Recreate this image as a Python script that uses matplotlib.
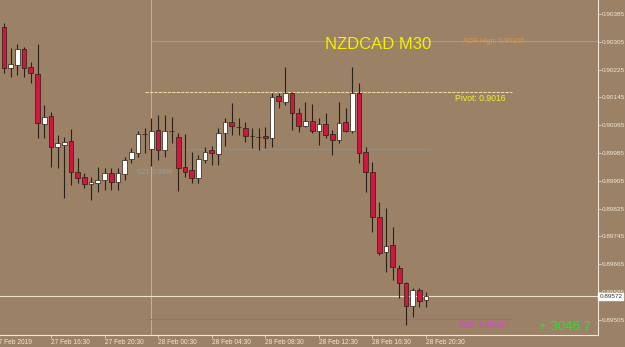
# NZDCAD M30 candlestick chart (MT4 style)
import numpy as np
import matplotlib.pyplot as plt

plt.rcParams['font.family'] = ['Liberation Sans', 'DejaVu Sans']

# OHLC for each 30 min bar, starting 27 Feb 13:00
opens = [0.90348, 0.90230, 0.90238, 0.90284, 0.90232, 0.90212, 0.90068, 0.90091,
         0.90002, 0.90008, 0.90020, 0.89930, 0.89916, 0.89896, 0.89899, 0.89907,
         0.89927, 0.89902, 0.89925, 0.89968, 0.89985, 0.90040, 0.89996, 0.90051,
         0.89994, 0.90048, 0.90031, 0.89945, 0.89936, 0.89913, 0.89965, 0.89994,
         0.89982, 0.90043, 0.90074, 0.90060, 0.90057, 0.90034, 0.90031, 0.90034,
         0.90028, 0.90149, 0.90132, 0.90158, 0.90100, 0.90063, 0.90077, 0.90048,
         0.90068, 0.90040, 0.90022, 0.90074, 0.90048, 0.90158, 0.89988, 0.89930,
         0.89801, 0.89700, 0.89720, 0.89654, 0.89611, 0.89545, 0.89591, 0.89562]
highs = [0.90359, 0.90287, 0.90299, 0.90290, 0.90247, 0.90299, 0.90123, 0.90103,
         0.90037, 0.90031, 0.90054, 0.89971, 0.89927, 0.89916, 0.89945, 0.89942,
         0.89942, 0.89942, 0.89973, 0.89999, 0.90048, 0.90057, 0.90086, 0.90094,
         0.90094, 0.90089, 0.90043, 0.90040, 0.89988, 0.89979, 0.90002, 0.90005,
         0.90057, 0.90086, 0.90129, 0.90086, 0.90074, 0.90057, 0.90057, 0.90060,
         0.90158, 0.90158, 0.90232, 0.90160, 0.90114, 0.90132, 0.90126, 0.90086,
         0.90100, 0.90051, 0.90132, 0.90114, 0.90232, 0.90186, 0.90002, 0.89959,
         0.89844, 0.89827, 0.89772, 0.89663, 0.89614, 0.89596, 0.89596, 0.89585]
lows = [0.90215, 0.90204, 0.90209, 0.90204, 0.90186, 0.90028, 0.90028, 0.89945,
        0.89942, 0.89855, 0.89893, 0.89899, 0.89884, 0.89850, 0.89873, 0.89879,
        0.89879, 0.89879, 0.89907, 0.89956, 0.89973, 0.89985, 0.89948, 0.89965,
        0.89973, 0.90014, 0.89876, 0.89916, 0.89899, 0.89899, 0.89956, 0.89950,
        0.89950, 0.90005, 0.90037, 0.90037, 0.90017, 0.89999, 0.89994, 0.89999,
        0.90002, 0.90114, 0.90123, 0.90051, 0.90045, 0.90060, 0.90043, 0.90008,
        0.90028, 0.89979, 0.90014, 0.90045, 0.90043, 0.89956, 0.89873, 0.89758,
        0.89691, 0.89642, 0.89619, 0.89568, 0.89490, 0.89513, 0.89542, 0.89542]
closes = [0.90230, 0.90241, 0.90284, 0.90230, 0.90215, 0.90071, 0.90089, 0.90002,
          0.90014, 0.90017, 0.89930, 0.89913, 0.89896, 0.89902, 0.89907, 0.89927,
          0.89902, 0.89927, 0.89965, 0.89988, 0.90040, 0.90040, 0.90048, 0.89994,
          0.90048, 0.90048, 0.89942, 0.89930, 0.89913, 0.89968, 0.89988, 0.89985,
          0.90043, 0.90074, 0.90063, 0.90060, 0.90034, 0.90034, 0.90031, 0.90028,
          0.90146, 0.90135, 0.90158, 0.90100, 0.90063, 0.90077, 0.90048, 0.90068,
          0.90037, 0.90022, 0.90071, 0.90048, 0.90158, 0.89985, 0.89930, 0.89801,
          0.89697, 0.89717, 0.89657, 0.89611, 0.89545, 0.89591, 0.89559, 0.89572]

time_bars = [7, 15, 23, 31, 39, 47, 55, 63]
time_labels = ['27 Feb 16:30', '27 Feb 20:30', '28 Feb 00:30', '28 Feb 04:30',
               '28 Feb 08:30', '28 Feb 12:30', '28 Feb 16:30', '28 Feb 20:30']
price_ticks = [0.90385, 0.90305, 0.90225, 0.90145, 0.90065, 0.89985,
               0.89905, 0.89825, 0.89745, 0.89665, 0.89585, 0.89505]

adr_high = 0.90306
pivot = 0.9016
blue_level = 0.89996
s38 = 0.89507
bid = 0.89572
day_start = 22

bg = '#9b8166'
fg = '#f2e8d8'

fig = plt.figure(figsize=(6.25, 3.47), dpi=100, facecolor=bg)
ax = fig.add_axes([0, 12 / 347, 598 / 625, 335 / 347], facecolor=bg)

x = np.arange(len(opens))
o = np.array(opens)
c = np.array(closes)
up = c >= o

# day separator
ax.axvline(day_start, color='#c9b293', lw=0.7, zorder=1)

# levels
ax.hlines(adr_high, 22.1, 90, color='#d49a5a', lw=0.6, zorder=1)
ax.text(73, adr_high, 'ADR High: 0.90306', color='#d9974e', fontsize=5,
        ha='center', va='center', zorder=2)
ax.hlines(pivot, 21, 75.8, color='#e8dca0', lw=0.8, linestyles=(0, (3, 1)), zorder=1)
ax.text(67.3, pivot - 0.00006, 'Pivot: 0.9016', color='#f5ef30', fontsize=6.2,
        ha='left', va='top', zorder=2)
ax.hlines(blue_level, 25, 63.6, color='#7b93ad', lw=0.9, zorder=1)
ax.text(19.8, 0.89930, 'S23: 0.8999', color='#8fa3b0', fontsize=4.8,
        ha='left', va='center', zorder=2)
ax.hlines(s38, 21, 75.8, color='#c25a8e', lw=0.8, zorder=1)
ax.text(67.8, s38 - 0.00005, 'S38: 0.8950', color='#e040d8', fontsize=6.4,
        ha='left', va='top', zorder=2)
ax.axhline(bid, color='#efe2c8', lw=0.8, zorder=1)

# candles
ax.vlines(x, lows, highs, color='#2a2017', lw=0.8, zorder=3)
body_bottom = np.minimum(o, c)
body_height = np.abs(c - o)
colors = np.where(up, '#ffffff', '#d3163f')
ax.bar(x, body_height, bottom=body_bottom, width=0.7, color=colors,
       edgecolor='#2a1c12', linewidth=0.5, zorder=4)

ax.text(55.8, 0.90296, 'NZDCAD M30', color='#f4f000', fontsize=12,
        ha='center', va='center', zorder=5)
ax.text(87.6, 0.89484, '+ 3046.7', color='#2ee02e', fontsize=9.5,
        ha='right', va='center', zorder=5)

ax.set_xlim(-0.6, 88.66)
ax.set_ylim(0.89461, 0.90425)

ax.yaxis.tick_right()
ax.set_yticks(price_ticks)
ax.set_yticklabels([f'{p:.5f}' for p in price_ticks])
ax.tick_params(axis='y', colors=fg, labelsize=4.6, length=2, width=0.5, pad=1)
ax.set_xticks(time_bars)
ax.set_xticklabels(time_labels, ha='left')
ax.tick_params(axis='x', colors=fg, labelsize=4.8, length=2, width=0.5, pad=1)
ax.text(-1.4, -0.012, '27 Feb 2019', transform=ax.get_xaxis_transform(),
        color=fg, fontsize=4.8, ha='left', va='top')

for s in ['top', 'left']:
    ax.spines[s].set_visible(False)
for s in ['right', 'bottom']:
    ax.spines[s].set_color(fg)
    ax.spines[s].set_linewidth(0.8)

ax.annotate(f'{bid:.5f}', xy=(1.0, bid), xycoords=('axes fraction', 'data'),
            xytext=(1, 0), textcoords='offset points', fontsize=4.6,
            color='#333333', va='center', ha='left', zorder=6,
            bbox=dict(boxstyle='square,pad=0.15', fc='white', ec='white'),
            annotation_clip=False)

fig.savefig('out.png', dpi=100, facecolor=bg)
